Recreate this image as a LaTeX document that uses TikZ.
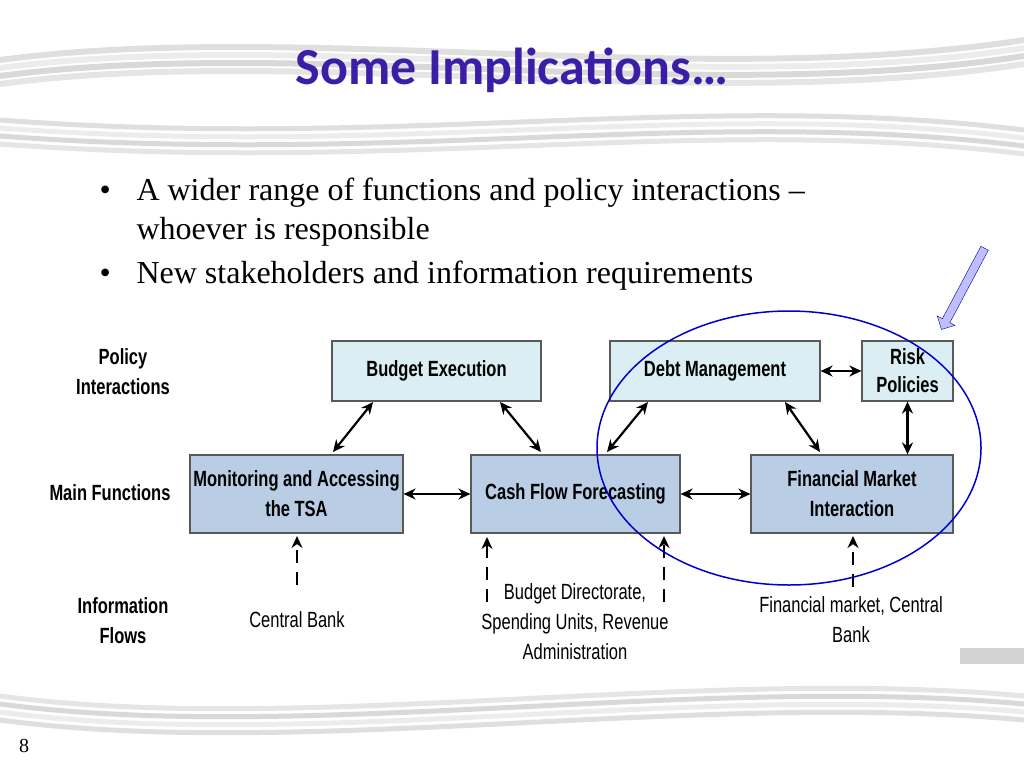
\documentclass[tikz,border=0pt]{standalone}
\usepackage{fontspec}
\setmainfont{Liberation Serif}
\newfontfamily\nar[FakeStretch=0.75]{Liberation Sans}
\newfontfamily\calfont{Carlito}
\usetikzlibrary{arrows.meta,shapes.arrows}
\definecolor{lb}{HTML}{DBEEF4}
\definecolor{db}{HTML}{B9CDE5}
\definecolor{tc}{HTML}{3A1FA6}
\begin{document}
\begin{tikzpicture}[x=1pt,y=-1pt,
 lbox/.style={draw=gray!70!black,line width=1.2pt,fill=lb,align=center,font=\nar\bfseries\fontsize{22}{28}\selectfont},
 dbox/.style={draw=gray!70!black,line width=1.2pt,fill=db,align=center,font=\nar\bfseries\fontsize{22}{30}\selectfont},
 lab/.style={align=center,font=\nar\bfseries\fontsize{22}{30}\selectfont},
 slab/.style={align=center,font=\nar\fontsize{22}{30}\selectfont},
 arr/.style={{Stealth[length=12pt,width=11pt]}-{Stealth[length=12pt,width=11pt]},line width=2.2pt},
 darr/.style={-{Stealth[length=12pt,width=11pt]},line width=2.2pt,dash pattern=on 13pt off 9pt},
 btxt/.style={anchor=base west,font=\fontsize{32}{36}\selectfont}]
\useasboundingbox (0,0) rectangle (1024,768);
% decorative swooshes
\foreach \o/\g in {0/25,8/15,16/30,24/20}{
 \draw[gray!\g,line width=6pt] (0,60+\o) .. controls (300,20+\o) and (700,90+\o) .. (1024,40+\o);
 \draw[gray!\g,line width=5pt] (0,120+\o) .. controls (400,150+\o) and (700,90+\o) .. (1024,130+\o);
 \draw[gray!\g,line width=5pt] (0,720-\o) .. controls (300,760-\o) and (700,690-\o) .. (1024,720-\o);
}
\fill[gray!35] (960,648) rectangle (1024,664);
\node[font=\calfont\bfseries\fontsize{52}{56}\selectfont,text=tc] (t) at (512,70) {Some Implications…};
\node[btxt] (u1) at (96,200) {•};
\node[btxt] (b1) at (133,200) {A wider range of functions and policy interactions –};
\node[btxt] (b1b) at (133,239) {whoever is responsible};
\node[btxt] (u2) at (96,283) {•};
\node[btxt] (b2) at (133,283) {New stakeholders and information requirements};
\node[font=\fontsize{20}{22}\selectfont] (pg) at (24,746) {8};
% labels
\node[lab] (l1) at (123,372) {Policy\\Interactions};
\node[lab] (l2) at (110,493) {Main Functions};
\node[lab] (l3) at (123,621) {Information\\Flows};
% boxes
\node[lbox,minimum width=209pt,minimum height=60pt] (be) at (436.5,371) {Budget Execution};
\node[lbox,minimum width=210pt,minimum height=60pt] (dm) at (715,371) {Debt Management};
\node[lbox,minimum width=91pt,minimum height=60pt] (rp) at (907.5,371) {Risk\\Policies};
\node[dbox,minimum width=207pt,minimum height=78pt] (mo) at (296.5,494) {Monitoring and Accessing\\the TSA};
\node[dbox,minimum width=209pt,minimum height=78pt] (cf) at (575.5,494) {Cash Flow Forecasting};
\node[dbox,minimum width=202pt,minimum height=78pt] (fm) at (852,494) {Financial Market\\Interaction};
% source labels
\node[slab] (s1) at (297,620) {Central Bank};
\node[slab] (s2) at (575,622) {Budget Directorate,\\Spending Units, Revenue\\Administration};
\node[slab] (s3) at (851,620) {Financial market, Central\\Bank};
% arrows
\coordinate (a1) at (373,402); \coordinate (a2) at (333,452);
\draw[arr] (a1) -- (a2);
\coordinate (a3) at (500,402); \coordinate (a4) at (541,452);
\draw[arr] (a3) -- (a4);
\coordinate (a5) at (648,402); \coordinate (a6) at (607,452);
\draw[arr] (a5) -- (a6);
\coordinate (a7) at (785,402); \coordinate (a8) at (820,452);
\draw[arr] (a7) -- (a8);
\draw[arr] (dm.east) -- (rp.west);
\draw[arr] (rp.south) -- (rp.south |- fm.north);
\draw[arr] (mo.east) -- (cf.west);
\draw[arr] (cf.east) -- (fm.west);
\coordinate (d1) at (297,585); \coordinate (e1) at (297,536);
\coordinate (d2) at (487,602); \coordinate (e2) at (487,537);
\coordinate (d3) at (664,602); \coordinate (e3) at (664,536);
\coordinate (d4) at (853,587); \coordinate (e4) at (853,536);
\draw[darr] (d1) -- (e1);
\draw[darr] (d2) -- (e2);
\draw[darr] (d3) -- (e3);
\draw[darr] (d4) -- (e4);
% ellipse
\draw[blue!80!black,line width=1.5pt] (789,448) ellipse [x radius=192,y radius=137];
% block arrow
\node[single arrow,draw=blue!60!black,fill=blue!25,minimum width=20pt,single arrow head extend=3pt,minimum height=92pt,rotate=-118,inner sep=2pt] (ba) at (964,287) {};
\end{tikzpicture}
\end{document}
